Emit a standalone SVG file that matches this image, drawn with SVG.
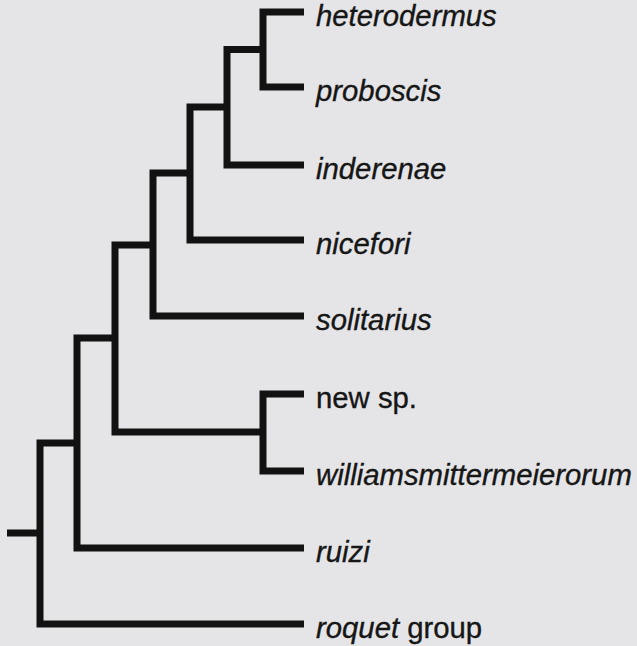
<svg xmlns="http://www.w3.org/2000/svg" width="637" height="646" viewBox="0 0 637 646">
<style>
.br{fill:none;stroke:#121212;stroke-width:7;stroke-linejoin:miter;stroke-linecap:butt}
.lb{font-family:"Liberation Sans",Arial,sans-serif;font-size:29.3px;fill:#161616;stroke:#161616;stroke-width:0.35}
.it{font-style:italic}
</style>
<rect width="637" height="646" fill="#e5e5e7"/>
<g id="connectors">
<path class="br" d="M304,12 H263 V87 H304"/>
<path class="br" d="M263,49.5 H227 V165 H304"/>
<path class="br" d="M227,107 H190 V240 H304"/>
<path class="br" d="M190,173 H153 V316 H304"/>
<path class="br" d="M304,394 H263 V471 H304"/>
<path class="br" d="M153,245 H115 V432 H263"/>
<path class="br" d="M115,338 H77 V548 H304"/>
<path class="br" d="M77,443 H40 V624 H304"/>
<path class="br" d="M7,533 H40"/>
</g>
<g id="heterodermus"><text class="lb it" x="316" y="26">heterodermus</text></g>
<g id="proboscis"><text class="lb it" x="316" y="101">proboscis</text></g>
<g id="inderenae"><text class="lb it" x="316" y="179">inderenae</text></g>
<g id="nicefori"><text class="lb it" x="316" y="254">nicefori</text></g>
<g id="solitarius"><text class="lb it" x="316" y="330">solitarius</text></g>
<g id="new-sp"><text class="lb" x="316" y="408">new sp.</text></g>
<g id="williamsmittermeierorum"><text class="lb it" x="316" y="485">williamsmittermeierorum</text></g>
<g id="ruizi"><text class="lb it" x="316" y="562">ruizi</text></g>
<g id="roquet-group"><text class="lb" x="316" y="638"><tspan class="it">roquet</tspan> group</text></g>
</svg>
